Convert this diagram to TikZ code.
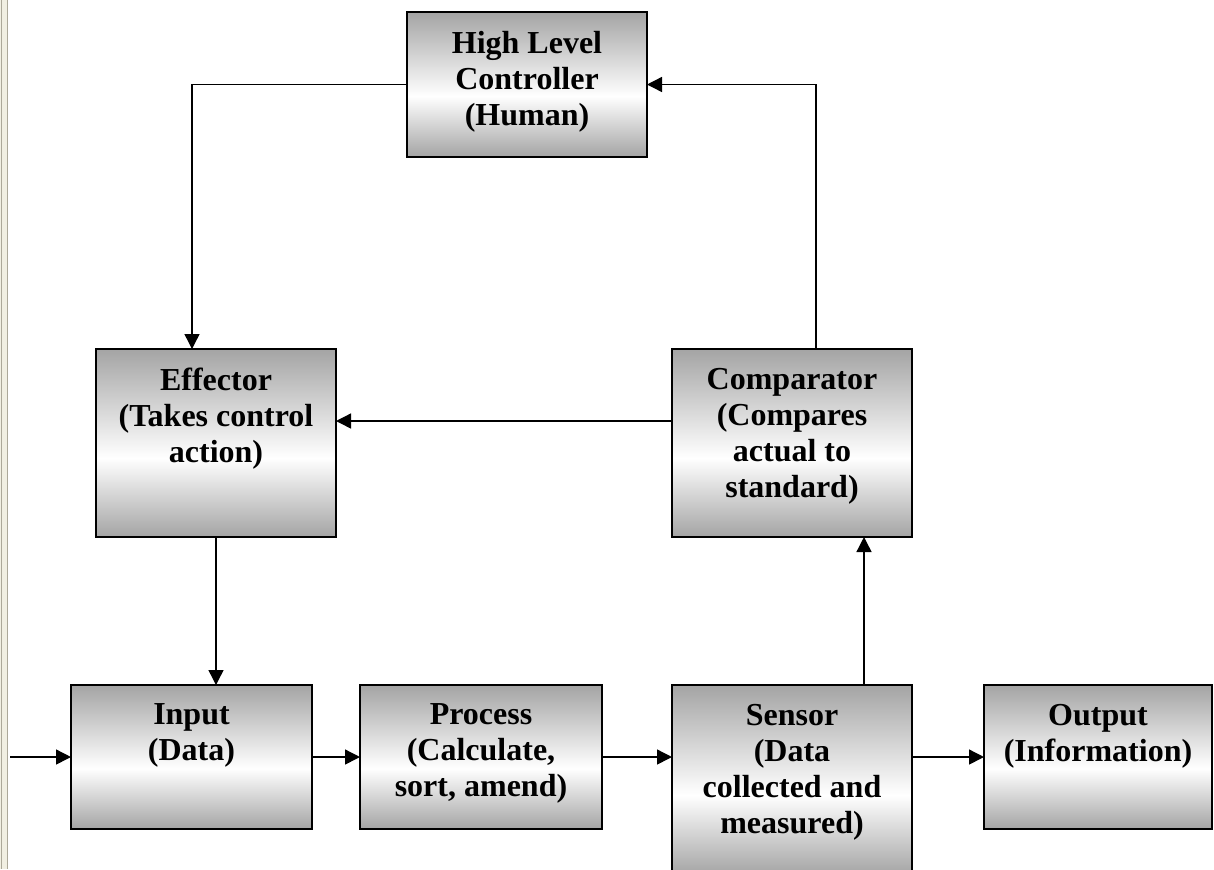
\documentclass[tikz,border=0pt]{standalone}
\usepackage{fontspec}
\setmainfont{Liberation Serif}
\usetikzlibrary{arrows.meta,calc}
\definecolor{shgray}{HTML}{A4A4A4}
\definecolor{edgebeige}{HTML}{F1EFE2}
\definecolor{edgeline}{HTML}{ACA899}
\pgfdeclareverticalshading{boxshade}{100bp}{color(0bp)=(shgray); color(25bp)=(shgray); color(46bp)=(white); color(75bp)=(shgray); color(100bp)=(shgray)}
\tikzset{
  box/.style={draw=black, line width=1pt, shading=boxshade, inner sep=0pt, outer sep=0pt},
  lbl/.style={anchor=north, yshift=-9.2pt, inner sep=0pt, align=center, font=\fontsize{16pt}{18pt}\selectfont\bfseries},
  arr/.style={line width=0.7pt, -{Triangle[length=7.5pt,width=7.5pt]}},
}
\begin{document}
\begin{tikzpicture}[x=0.5pt,y=-0.5pt]
\useasboundingbox (0,0) rectangle (1214,869);
\clip (0,0) rectangle (1214,869);
% left window edge
\fill[edgebeige] (0,0) rectangle (8,869);
\draw[edgeline, line width=0.5pt] (1.3,0) -- (1.3,869);
\draw[edgeline, line width=0.8pt] (7.3,0) -- (7.3,869);
% boxes
\node[box, minimum width=120pt, minimum height=72.5pt, label={[lbl]north:{High Level\\Controller\\(Human)}}] (hlc) at (527,84.5) {};
\node[box, minimum width=120pt, minimum height=94pt, label={[lbl]north:{Effector\\(Takes control\\action)}}] (eff) at (216,443) {};
\node[box, minimum width=120pt, minimum height=94pt, label={[lbl]north:{Comparator\\(Compares\\actual to\\standard)}}] (cmp) at (792,443) {};
\node[box, minimum width=120.5pt, minimum height=72pt, label={[lbl]north:{Input\\(Data)}}] (inp) at (191.5,757) {};
\node[box, minimum width=121pt, minimum height=72pt, label={[lbl]north:{Process\\(Calculate,\\sort, amend)}}] (prc) at (481,757) {};
\node[box, minimum width=120pt, minimum height=95pt, label={[lbl]north:{Sensor\\(Data\\collected and\\measured)}}] (sen) at (792,780) {};
\node[box, minimum width=114pt, minimum height=72pt, label={[lbl]north:{Output\\(Information)}}] (out) at (1098,757) {};
% helper coordinates
\coordinate (hx) at (192,0);
\coordinate (cx) at (816,0);
\coordinate (ay) at (0,421);
\coordinate (sx) at (864,0);
\coordinate (start) at (10,757);
% connectors
\draw[arr] (hlc.west) -| (eff.north -| hx);
\draw[arr] (cmp.north -| cx) |- (hlc.east);
\draw[arr] (cmp.west |- ay) -- (eff.east |- ay);
\draw[arr] (eff.south) -- (inp.north -| eff.south);
\draw[arr] (start) -- (inp.west);
\draw[arr] (inp.east) -- (prc.west);
\draw[arr] (prc.east) -- (sen.west |- prc.east);
\draw[arr] (sen.north -| sx) -- (cmp.south -| sx);
\draw[arr] (sen.east |- out.west) -- (out.west);
\end{tikzpicture}
\end{document}
